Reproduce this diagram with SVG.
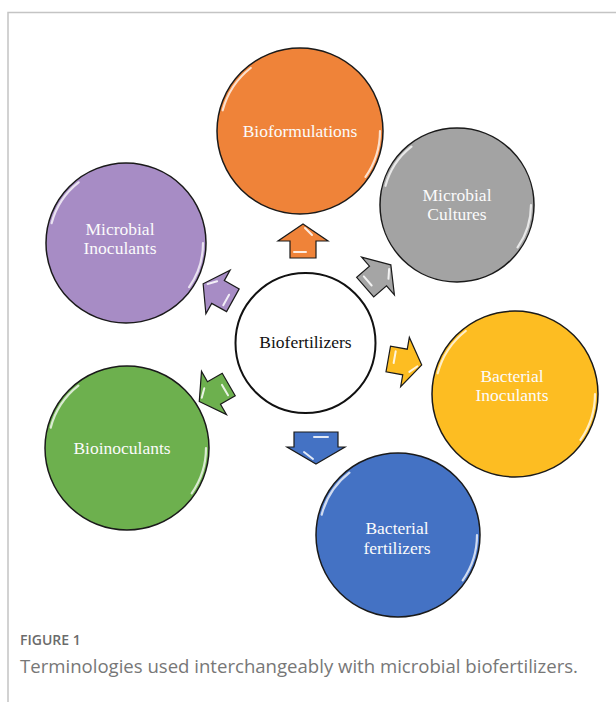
<svg xmlns="http://www.w3.org/2000/svg" width="616" height="702" viewBox="0 0 616 702">
<defs>
<style>
.frame{fill:none;stroke:#c4c4c4;stroke-width:1.5}
.node{stroke:#1a1a1a;stroke-width:1.5}
.hl{fill:none;stroke:#ffffff;stroke-width:2.2;stroke-linecap:round;opacity:0.75}
.lbl{font-family:"Liberation Serif","Times New Roman",serif;font-size:17.5px;fill:#fbfbfb;text-anchor:middle}
.clbl{font-family:"Liberation Serif","Times New Roman",serif;font-size:17.5px;fill:#111;text-anchor:middle}
.arr{stroke:#1a1a1a;stroke-width:1.2;stroke-linejoin:miter}
.ahl{stroke:#ffffff;stroke-width:2;stroke-linecap:round;opacity:0.85;fill:none}
.cap1{font-family:"Open Sans","Noto Sans",sans-serif;font-size:14px;font-weight:600;fill:#6b6b6b}
.cap2{font-family:"Open Sans","Noto Sans",sans-serif;font-size:18px;fill:#777}
</style>
<path id="arrowShape" d="M17,0 L0,-25 L0,-13 L-17,-13 L-17,13 L0,13 L0,25 Z"/>
</defs>
<rect width="616" height="702" fill="#ffffff"/>
<path class="frame" d="M8,702 L8,12.5 L616,12.5"/>

<g id="connectors">
<g id="arrow-bioformulations" transform="translate(303,241) rotate(-90)">
<use href="#arrowShape" class="arr" fill="#EF8339"/>
<path class="ahl" d="M-11,-9 L-11,3 M13,2 L6,9"/>
</g>
<g id="arrow-microbial-cultures" transform="translate(378,276) rotate(-41)">
<use href="#arrowShape" class="arr" fill="#A5A5A5"/>
<path class="ahl" d="M-11,-9 L-11,3 M13,2 L6,9"/>
</g>
<g id="arrow-bacterial-inoculants" transform="translate(405,362) rotate(10)">
<use href="#arrowShape" class="arr" fill="#FDBD22"/>
<path class="ahl" d="M-11,-9 L-11,3 M13,2 L6,9"/>
</g>
<g id="arrow-bacterial-fertilizers" transform="translate(316,447) rotate(90)">
<path class="arr" fill="#4472C4" d="M17,0 L0,-29 L0,-22 L-15,-22 L-15,22 L0,22 L0,29 Z"/>
<path class="ahl" d="M-10,-12 L-10,2 M12,3 L5,12"/>
</g>
<g id="arrow-bioinoculants" transform="translate(214,393) rotate(150)">
<use href="#arrowShape" class="arr" fill="#6DB04E"/>
<path class="ahl" d="M-11,-9 L-11,3 M13,2 L6,9"/>
</g>
<g id="arrow-microbial-inoculants" transform="translate(218,292) rotate(-151)">
<use href="#arrowShape" class="arr" fill="#A78CC5"/>
<path class="ahl" d="M-11,-9 L-11,3 M13,2 L6,9"/>
</g>
</g>

<g id="node-center">
<circle cx="305.5" cy="343" r="70" fill="#ffffff" stroke="#111" stroke-width="2"/>
<text class="clbl" x="305.5" y="347.5">Biofertilizers</text>
</g>

<g id="node-bioformulations">
<circle class="node" cx="300" cy="131" r="83" fill="#EF8339"/>
<g transform="translate(300,131)"><path class="hl" d="M-77.3,-20.7 A80 80 0 0 1 -49.3,-63 M80,0 A80 80 0 0 1 65.5,45.9"/></g>
<text class="lbl" x="300" y="137">Bioformulations</text>
</g>

<g id="node-microbial-cultures">
<circle class="node" cx="457" cy="205" r="77" fill="#A3A3A3"/>
<g transform="translate(457,205)"><path class="hl" d="M-71.5,-19.2 A74 74 0 0 1 -45.6,-58.3 M74,0 A74 74 0 0 1 60.6,42.4"/></g>
<text class="lbl" x="457" y="201">Microbial</text>
<text class="lbl" x="457" y="219.5">Cultures</text>
</g>

<g id="node-bacterial-inoculants">
<circle class="node" cx="515" cy="394" r="83" fill="#FDBD22"/>
<g transform="translate(515,394)"><path class="hl" d="M-77.3,-20.7 A80 80 0 0 1 -49.3,-63 M80,0 A80 80 0 0 1 65.5,45.9"/></g>
<text class="lbl" x="512" y="382">Bacterial</text>
<text class="lbl" x="512" y="401">Inoculants</text>
</g>

<g id="node-bacterial-fertilizers">
<circle class="node" cx="398" cy="535" r="82" fill="#4472C4"/>
<g transform="translate(398,535)"><path class="hl" d="M-76.3,-20.4 A79 79 0 0 1 -48.6,-62.3 M79,0 A79 79 0 0 1 64.7,45.3"/></g>
<text class="lbl" x="397" y="534">Bacterial</text>
<text class="lbl" x="397" y="554">fertilizers</text>
</g>

<g id="node-bioinoculants">
<circle class="node" cx="127" cy="448" r="82" fill="#6DB04E"/>
<g transform="translate(127,448)"><path class="hl" d="M-76.3,-20.4 A79 79 0 0 1 -48.6,-62.3 M79,0 A79 79 0 0 1 64.7,45.3"/></g>
<text class="lbl" x="122" y="454">Bioinoculants</text>
</g>

<g id="node-microbial-inoculants">
<circle class="node" cx="126" cy="243" r="80" fill="#A78CC5"/>
<g transform="translate(126,243)"><path class="hl" d="M-74.4,-19.9 A77 77 0 0 1 -47.4,-60.7 M77,0 A77 77 0 0 1 63.1,44.2"/></g>
<text class="lbl" x="120" y="235">Microbial</text>
<text class="lbl" x="120" y="254">Inoculants</text>
</g>

<g id="caption">
<text class="cap1" x="20" y="645">FIGURE 1</text>
<text class="cap2" x="20" y="673" textLength="558" lengthAdjust="spacingAndGlyphs">Terminologies used interchangeably with microbial biofertilizers.</text>
</g>
</svg>
